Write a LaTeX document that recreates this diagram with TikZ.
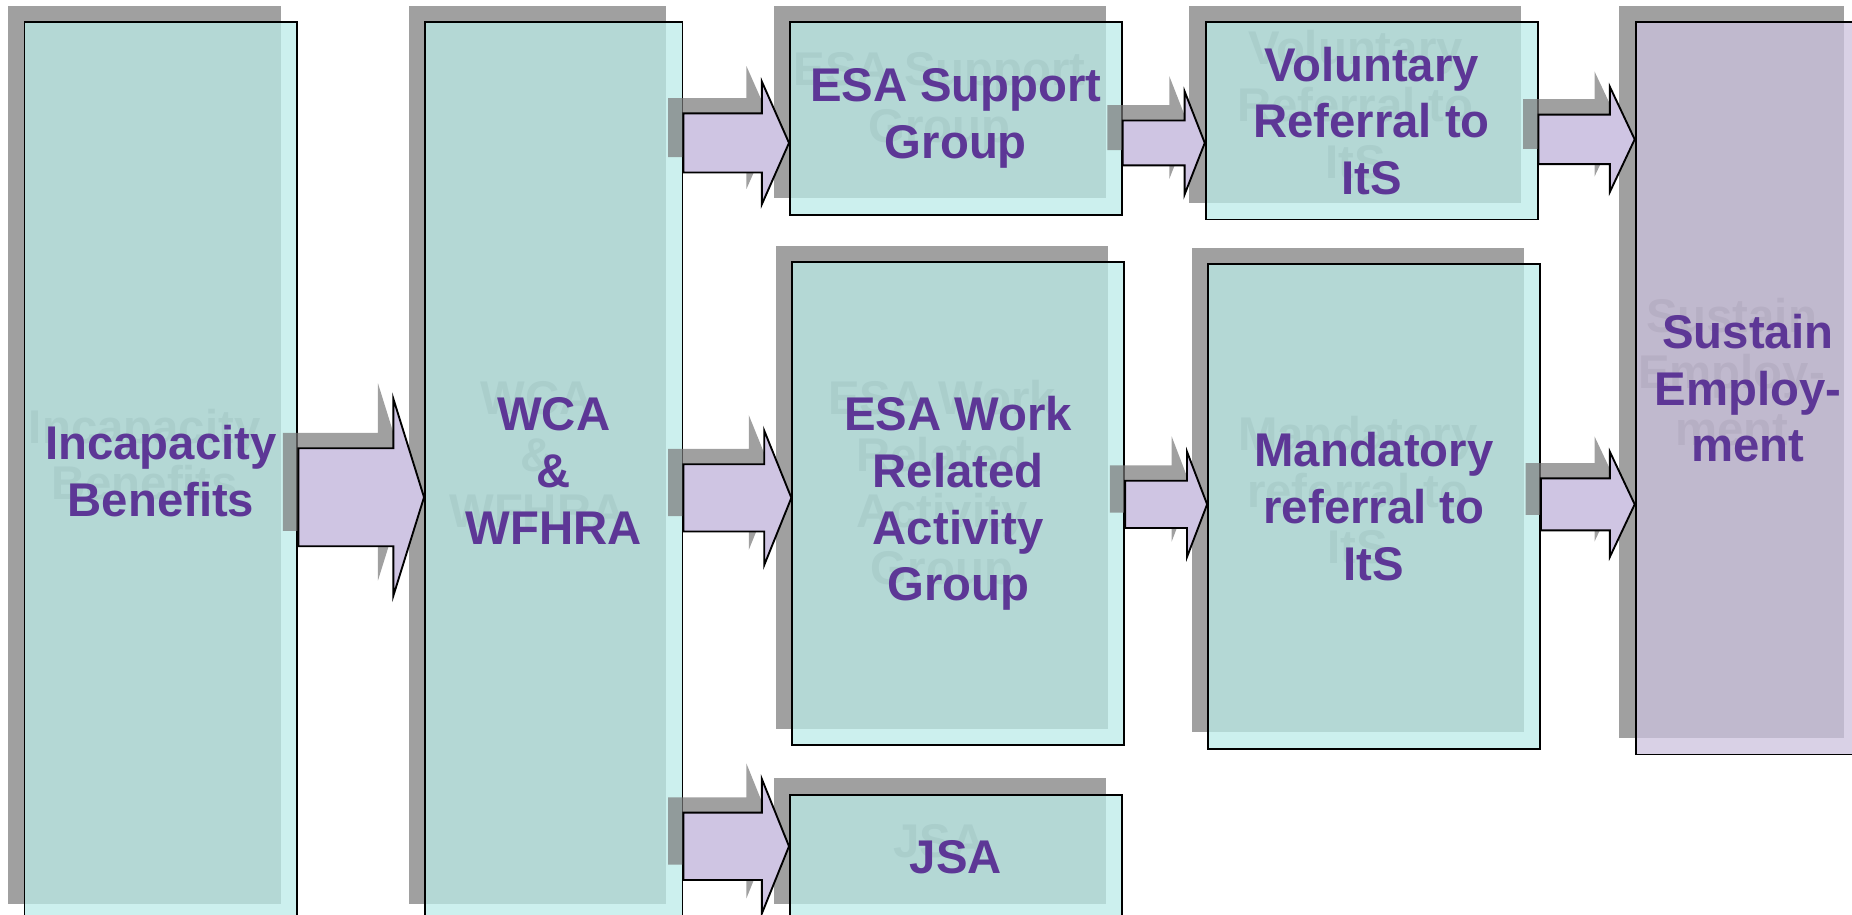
\documentclass[tikz,border=0pt]{standalone}
\usepackage{fontspec}
\setmainfont{Liberation Sans}
\usetikzlibrary{calc}

\definecolor{shadowgray}{RGB}{160,160,160}
\definecolor{ghostgray}{RGB}{120,120,120}
\definecolor{boxcyan}{RGB}{187,235,232}
\definecolor{boxlilac}{RGB}{204,194,222}
\definecolor{arrowlilac}{RGB}{207,197,227}
\definecolor{textpurple}{RGB}{93,55,150}

\newcommand{\px}{0.02cm}
% box with its shadow and its faint text shadow
\newcommand{\panel}[7]{%
  \fill[boxshadow] (#2-13,#3-13) rectangle ++(#4,#5);
  \node[ghost] at (#2-13+#4/2,#3-13+#5/2) {#7};
  \node[#6, minimum width=#4*\px, minimum height=#5*\px] (#1) at (#2,#3) {#7};
}
% block arrow from one box to the next
\newcommand{\flow}[6]{%
  \coordinate (t) at (#1.east |- 0,#3);
  \coordinate (p) at (#2.west |- 0,#3);
  \fill[flowshadow] ($(t)+(-13,-13-#4)$) -- ($(p)+(-13-#6,-13-#4)$) -- ($(p)+(-13-#6,-13-#5)$)
    -- ($(p)+(-13,-13)$) -- ($(p)+(-13-#6,-13+#5)$) -- ($(p)+(-13-#6,-13+#4)$) -- ($(t)+(-13,-13+#4)$) -- cycle;
  \draw[flowarrow] ($(t)+(0,-#4)$) -- ($(p)+(-#6,-#4)$) -- ($(p)+(-#6,-#5)$)
    -- (p) -- ($(p)+(-#6,#5)$) -- ($(p)+(-#6,#4)$) -- ($(t)+(0,#4)$) -- cycle;
}

\begin{document}
\begin{tikzpicture}[x=0.02cm, y=-0.02cm,
  label/.style={font=\bfseries\fontsize{22.8}{27.3}\selectfont, align=center},
  box/.style={label, draw=black, line width=0.9pt, fill=boxcyan, fill opacity=0.75,
    text opacity=1, text=textpurple, anchor=north west, inner sep=0pt},
  sustainbox/.style={box, fill=boxlilac},
  ghost/.style={label, text=ghostgray},
  boxshadow/.style={fill=shadowgray},
  flowshadow/.style={fill=ghostgray, fill opacity=0.7},
  flowarrow/.style={fill=arrowlilac, draw=black, line width=0.9pt, line join=miter}]

\useasboundingbox (0,0) rectangle (1568,774);

\panel{inc}{20}{18}{231}{760}{box}{Incapacity\\Benefits}
\panel{wca}{359}{18}{218}{760}{box}{WCA\\\&\\WFHRA}
\panel{sup}{668}{18}{281}{163}{box}{ESA Support\\Group}
\panel{vol}{1020}{18}{281}{167}{box}{Voluntary\\Referral to\\ItS}
\panel{wrag}{670}{221}{281}{409}{box}{ESA Work\\Related\\Activity\\Group}
\panel{mand}{1022}{223}{281}{410}{box}{Mandatory\\referral to\\ItS}
\panel{jsa}{668}{672}{281}{106}{box}{JSA}
\panel{sus}{1384}{18}{190}{620}{sustainbox}{Sustain\\Employ-\\ment}

\flow{inc}{wca}{421}{41.5}{83.5}{26}
\flow{wca}{sup}{121}{25}{52}{23}
\flow{wca}{wrag}{421.5}{28.5}{57}{23}
\flow{wca}{jsa}{716.5}{28.5}{57}{23}
\flow{sup}{vol}{121}{19}{43.5}{17}
\flow{wrag}{mand}{427}{20}{44.5}{17}
\flow{vol}{sus}{118}{21}{44.5}{21}
\flow{mand}{sus}{427}{22}{44.5}{21}
\end{tikzpicture}
\end{document}
